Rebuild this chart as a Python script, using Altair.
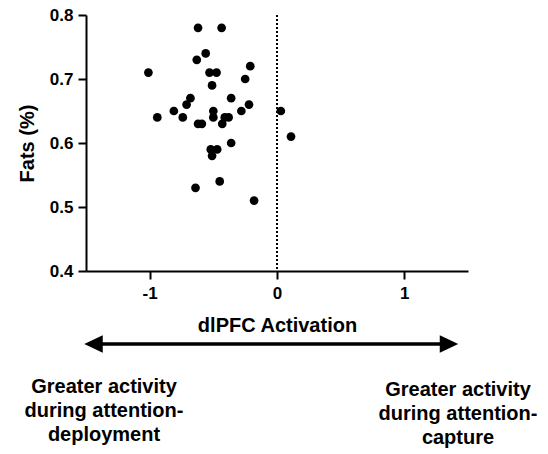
import altair as alt
import pandas as pd

activation = [-0.62, -0.435, -0.56, -0.63, -1.01, -0.53, -0.475, -0.21, -0.25, -0.51,
              -0.68, -0.36, -0.71, -0.22, -0.81, -0.50, -0.28, 0.03, -0.94, -0.74,
              -0.50, -0.41, -0.38, -0.62, -0.59, -0.43, 0.11, -0.36, -0.52, -0.47,
              -0.51, -0.45, -0.64, -0.18]
fats = [0.78, 0.78, 0.74, 0.73, 0.71, 0.71, 0.71, 0.72, 0.70, 0.69,
        0.67, 0.67, 0.66, 0.66, 0.65, 0.65, 0.65, 0.65, 0.64, 0.64,
        0.64, 0.64, 0.64, 0.63, 0.63, 0.63, 0.61, 0.60, 0.59, 0.59,
        0.58, 0.54, 0.53, 0.51]
x_ticks = [-1, 0, 1]
y_ticks = [0.4, 0.5, 0.6, 0.7, 0.8]
left_note = ["Greater activity", "during attention-", "deployment"]
right_note = ["Greater activity", "during attention-", "capture"]

FONT = "Liberation Sans"
df = pd.DataFrame({"x": activation, "y": fats})

xs = alt.Scale(domain=[-1.5, 1.5], nice=False)
ys = alt.Scale(domain=[0.4, 0.8], nice=False)

points = alt.Chart(df).mark_circle(size=76, color="black", opacity=1).encode(
    x=alt.X("x:Q", scale=xs, axis=alt.Axis(
        values=x_ticks, labelExpr="'' + datum.value", title="dlPFC Activation",
        titlePadding=14, labelPadding=6)),
    y=alt.Y("y:Q", scale=ys, axis=alt.Axis(
        values=y_ticks, format=".1f", title="Fats (%)", titlePadding=12)),
)

zero = alt.Chart(pd.DataFrame({"x": [0]})).mark_rule(
    color="black", strokeWidth=2, strokeDash=[2, 2]
).encode(x=alt.X("x:Q", scale=xs), y=alt.value(0), y2=alt.value(256))

ARROW_Y = 329
arrow_line = alt.Chart(pd.DataFrame({"a": [0]})).mark_rule(
    color="black", strokeWidth=3.5
).encode(x=alt.value(10), x2=alt.value(362), y=alt.value(ARROW_Y))

tri = "M-1,0L1,-0.95L1,0.95Z"
tri_r = "M1,0L-1,-0.95L-1,0.95Z"
head_l = alt.Chart(pd.DataFrame({"a": [0]})).mark_point(
    shape=tri, size=340, filled=True, color="black", opacity=1, strokeWidth=0
).encode(x=alt.value(7.5), y=alt.value(ARROW_Y))
head_r = alt.Chart(pd.DataFrame({"a": [0]})).mark_point(
    shape=tri_r, size=340, filled=True, color="black", opacity=1, strokeWidth=0
).encode(x=alt.value(363), y=alt.value(ARROW_Y))

note_l = alt.Chart(pd.DataFrame({"t": [left_note]})).mark_text(
    font=FONT, fontSize=20, fontWeight="bold", align="center", baseline="middle",
    lineHeight=24, color="black"
).encode(x=alt.value(18), y=alt.value(372), text="t")
note_r = alt.Chart(pd.DataFrame({"t": [right_note]})).mark_text(
    font=FONT, fontSize=20, fontWeight="bold", align="center", baseline="middle",
    lineHeight=24, color="black"
).encode(x=alt.value(372), y=alt.value(375), text="t")

chart = alt.layer(zero, points, arrow_line, head_l, head_r, note_l, note_r).properties(
    width=382, height=256,
    background="white",
    autosize=alt.AutoSizeParams(type="none"),
    padding={"left": 86, "top": 15, "right": 80, "bottom": 183},
).configure_view(stroke=None).configure_axis(
    grid=False, domainColor="black", domainWidth=2, tickColor="black", tickWidth=2,
    tickSize=8, labelPadding=5, labelFont=FONT, labelFontSize=17, labelFontWeight="bold",
    labelColor="black", titleFont=FONT, titleFontSize=20, titleFontWeight="bold",
    titleColor="black"
)

chart.save("out.html", embed_options={"renderer": "svg", "actions": False})
